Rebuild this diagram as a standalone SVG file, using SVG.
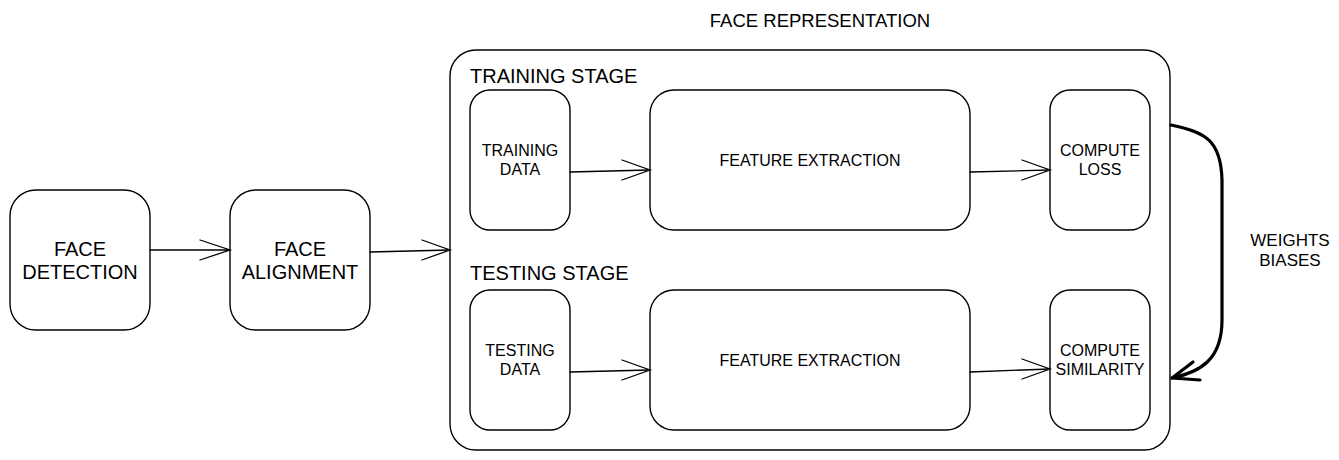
<svg xmlns="http://www.w3.org/2000/svg" width="1339" height="460" viewBox="0 0 1339 460">
<defs>
<style>
.box{fill:none;stroke:#000;stroke-width:1.4}
.edge{fill:none;stroke:#000;stroke-width:1.3;stroke-linecap:round}
.thick{fill:none;stroke:#000;stroke-width:3.2;stroke-linecap:round;stroke-linejoin:round}
text{font-family:"Liberation Sans",Arial,sans-serif;fill:#000;text-anchor:middle}
.big{font-size:20px}
.med{font-size:16px}
.side{font-size:17px}
.title{font-size:18.5px}
.stage{font-size:20px;text-anchor:start}
</style>
</defs>
<rect width="1339" height="460" fill="#fff"/>
<g id="face-representation">
<rect class="box" x="450" y="50" width="720" height="400" rx="26"/>
<text class="title" x="820" y="27">FACE REPRESENTATION</text>
<text class="stage" x="470" y="83">TRAINING STAGE</text>
<text class="stage" x="470" y="280">TESTING STAGE</text>
</g>
<g id="face-detection">
<rect class="box" x="10" y="190" width="140" height="140" rx="26"/>
<text class="big" x="80" y="256">FACE</text>
<text class="big" x="80" y="279">DETECTION</text>
</g>
<g id="face-alignment">
<rect class="box" x="230" y="190" width="140" height="140" rx="26"/>
<text class="big" x="300" y="256">FACE</text>
<text class="big" x="300" y="279">ALIGNMENT</text>
</g>
<g id="training-data">
<rect class="box" x="470" y="90" width="100" height="140" rx="20"/>
<text class="med" x="520" y="156">TRAINING</text>
<text class="med" x="520" y="175">DATA</text>
</g>
<g id="feature-extraction-train">
<rect class="box" x="650" y="90" width="320" height="140" rx="24"/>
<text class="med" x="810" y="166">FEATURE EXTRACTION</text>
</g>
<g id="compute-loss">
<rect class="box" x="1050" y="90" width="100" height="140" rx="20"/>
<text class="med" x="1100" y="156">COMPUTE</text>
<text class="med" x="1100" y="175">LOSS</text>
</g>
<g id="testing-data">
<rect class="box" x="470" y="290" width="100" height="140" rx="20"/>
<text class="med" x="520" y="356">TESTING</text>
<text class="med" x="520" y="375">DATA</text>
</g>
<g id="feature-extraction-test">
<rect class="box" x="650" y="290" width="320" height="140" rx="24"/>
<text class="med" x="810" y="366">FEATURE EXTRACTION</text>
</g>
<g id="compute-similarity">
<rect class="box" x="1050" y="290" width="100" height="140" rx="20"/>
<text class="med" x="1100" y="356">COMPUTE</text>
<text class="med" x="1100" y="375">SIMILARITY</text>
</g>
<g id="weights-label">
<text class="side" x="1290" y="246">WEIGHTS</text>
<text class="side" x="1290" y="266">BIASES</text>
</g>
<g id="connectors">
<path class="edge" d="M150 250 L230 250 M200 240 L230 250 L200 260"/>
<path class="edge" d="M370 252 L450 250 M422 240 L450 250 L422 260"/>
<path class="edge" d="M570 172 L650 170 M622 160 L650 170 L622 180"/>
<path class="edge" d="M970 172 L1050 170 M1022 160 L1050 170 L1022 180"/>
<path class="edge" d="M570 372 L650 370 M622 360 L650 370 L622 380"/>
<path class="edge" d="M970 372 L1050 369 M1022 359 L1050 369 L1022 379"/>
<path class="thick" d="M1171 125 C1205 132 1221 140 1222 180 L1222 320 C1222 360 1200 372 1172 378"/>
<path class="thick" d="M1193 362 L1172 378 L1200 380"/>
</g>
</svg>
